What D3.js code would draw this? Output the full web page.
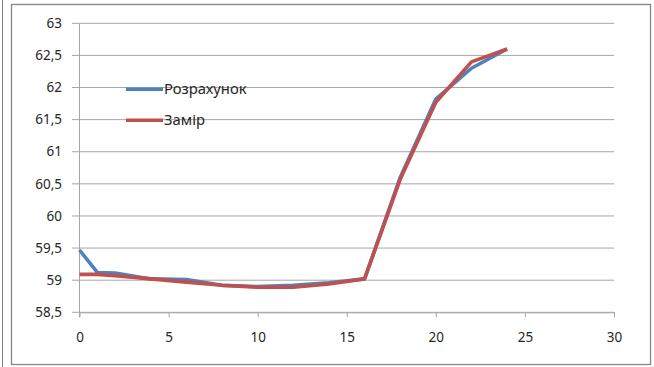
<!DOCTYPE html>
<html>
<head>
<meta charset="utf-8">
<script src="https://cdn.jsdelivr.net/npm/d3@7"></script>
<style>
  body { margin: 0; background: #fff; }
  svg { display: block; font-family: "Noto Sans", "Open Sans", sans-serif; }
</style>
</head>
<body>
<div id="chart"></div>
<script>
// data
var hours = [0, 1, 2, 4, 6, 8, 10, 12, 14, 16, 18, 20, 22, 24];
var calcValues = [59.47, 59.12, 59.11, 59.02, 59.01, 58.92, 58.9, 58.92, 58.96, 59.02, 60.6, 61.82, 62.3, 62.6];
var measValues = [59.09, 59.09, 59.07, 59.02, 58.97, 58.92, 58.89, 58.89, 58.94, 59.02, 60.57, 61.77, 62.4, 62.6];
var seriesNames = ["Розрахунок", "Замір"];
var seriesColors = ["#4F81BD", "#C0504D"];
var xTicks = [0, 5, 10, 15, 20, 25, 30];
var yTicks = [58.5, 59, 59.5, 60, 60.5, 61, 61.5, 62, 62.5, 63];

function drawChart() {
    var w = 654, h = 367;
    var svg = d3.select("#chart").append("svg")
        .attr("width", w)
        .attr("height", h);

    // outer frames
    svg.append("line")
        .attr("x1", 2.5).attr("x2", 2.5).attr("y1", 0).attr("y2", h)
        .attr("stroke", "#7f7f7f").attr("stroke-width", 1);
    svg.append("rect")
        .attr("x", 11.5).attr("y", 4.5)
        .attr("width", 639).attr("height", 360)
        .attr("fill", "#fff")
        .attr("stroke", "#868686").attr("stroke-width", 1.3);

    var xScale = d3.scaleLinear().domain([0, 30]).range([79.5, 614]);
    var yScale = d3.scaleLinear().domain([58.5, 63]).range([312.3, 23.3]);

    // gridlines
    svg.append("g")
        .selectAll("line")
        .data(yTicks)
        .enter().append("line")
        .attr("x1", 72).attr("x2", 614)
        .attr("y1", d => yScale(d)).attr("y2", d => yScale(d))
        .attr("stroke", "#a6a6a6").attr("stroke-width", 1);

    // y axis line
    svg.append("line")
        .attr("x1", xScale(0)).attr("x2", xScale(0))
        .attr("y1", yScale(63)).attr("y2", yScale(58.5) + 5)
        .attr("stroke", "#a6a6a6").attr("stroke-width", 1);

    // x axis
    var xAxis = svg.append("g")
        .attr("transform", `translate(0,${yScale(58.5)})`)
        .call(d3.axisBottom(xScale).tickValues(xTicks).tickSize(5).tickSizeOuter(0).tickPadding(15));
    xAxis.select(".domain").attr("stroke", "#a6a6a6");
    xAxis.selectAll(".tick line").attr("stroke", "#a6a6a6");
    xAxis.selectAll("text")
        .attr("font-size", 13.5).attr("fill", "#262626")
        .attr("font-family", "\"Noto Sans\", sans-serif");

    // y labels
    svg.append("g")
        .selectAll("text")
        .data(yTicks)
        .enter().append("text")
        .attr("x", 62)
        .attr("y", d => yScale(d))
        .attr("dy", "0.35em")
        .attr("text-anchor", "end")
        .attr("font-size", 13.5)
        .attr("fill", "#262626")
        .text(d => String(d).replace(".", ","));

    // lines
    var series = [calcValues, measValues];
    var line = d3.line()
        .x((d, i) => xScale(hours[i]))
        .y(d => yScale(d));

    svg.append("g")
        .selectAll("path")
        .data(series)
        .enter().append("path")
        .attr("d", d => line(d))
        .attr("fill", "none")
        .attr("stroke", (d, i) => seriesColors[i])
        .attr("stroke-width", 3.6)
        .attr("stroke-linejoin", "round");

    // legend
    var legend = svg.append("g")
        .selectAll("g")
        .data(seriesNames)
        .enter().append("g")
        .attr("transform", (d, i) => `translate(126,${89.3 + i * 31})`);

    legend.append("line")
        .attr("x1", 0).attr("x2", 37)
        .attr("stroke", (d, i) => seriesColors[i])
        .attr("stroke-width", 3.6);

    legend.append("text")
        .attr("x", 38)
        .attr("dy", "0.35em")
        .attr("font-size", 14.8)
        .attr("fill", "#262626")
        .text(d => d);
}

drawChart();
</script>
</body>
</html>
